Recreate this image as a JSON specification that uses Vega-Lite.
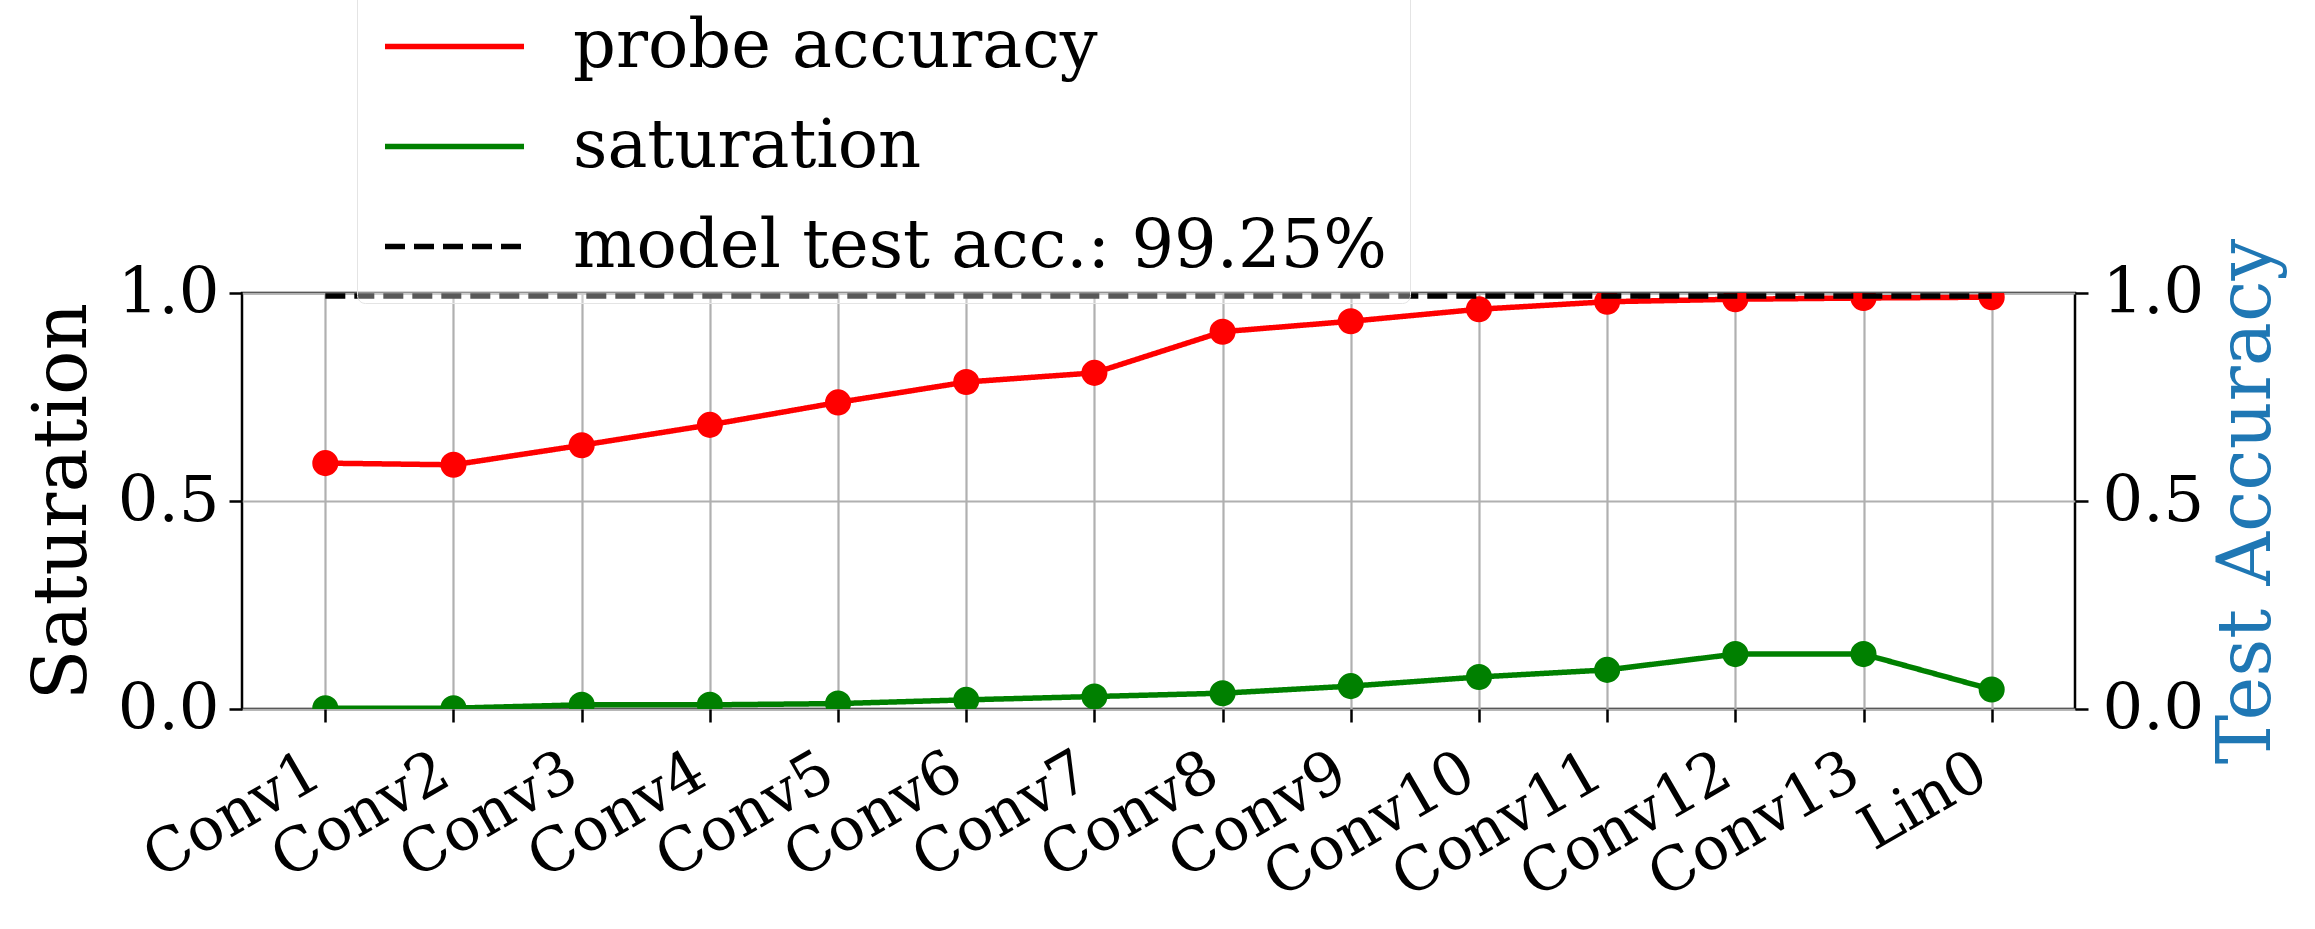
{
  "$schema": "https://vega.github.io/schema/vega-lite/v6.json",
  "width": 1833,
  "height": 416,
  "autosize": {"type": "none"},
  "padding": {"left": 242, "top": 293, "right": 240, "bottom": 220},
  "background": "white",
  "config": {
    "font": "DejaVu Serif",
    "view": {"stroke": "black", "strokeWidth": 2.5},
    "axis": {"labelFont": "DejaVu Serif", "titleFont": "DejaVu Serif", "labelColor": "black", "titleColor": "black", "titleFontWeight": "normal", "domainColor": "black", "domainWidth": 2.5, "tickColor": "black", "tickWidth": 2.5, "tickSize": 13}
  },
  "resolve": {"scale": {"y": "independent"}},
  "layer": [
    {
      "data": {"values": [
        {"layer": "Conv1", "series": "probe accuracy", "value": 0.591},
        {"layer": "Conv2", "series": "probe accuracy", "value": 0.587},
        {"layer": "Conv3", "series": "probe accuracy", "value": 0.634},
        {"layer": "Conv4", "series": "probe accuracy", "value": 0.683},
        {"layer": "Conv5", "series": "probe accuracy", "value": 0.737},
        {"layer": "Conv6", "series": "probe accuracy", "value": 0.786},
        {"layer": "Conv7", "series": "probe accuracy", "value": 0.808},
        {"layer": "Conv8", "series": "probe accuracy", "value": 0.907},
        {"layer": "Conv9", "series": "probe accuracy", "value": 0.932},
        {"layer": "Conv10", "series": "probe accuracy", "value": 0.961},
        {"layer": "Conv11", "series": "probe accuracy", "value": 0.979},
        {"layer": "Conv12", "series": "probe accuracy", "value": 0.985},
        {"layer": "Conv13", "series": "probe accuracy", "value": 0.988},
        {"layer": "Lin0", "series": "probe accuracy", "value": 0.990},
        {"layer": "Conv1", "series": "saturation", "value": 0.002},
        {"layer": "Conv2", "series": "saturation", "value": 0.002},
        {"layer": "Conv3", "series": "saturation", "value": 0.010},
        {"layer": "Conv4", "series": "saturation", "value": 0.010},
        {"layer": "Conv5", "series": "saturation", "value": 0.013},
        {"layer": "Conv6", "series": "saturation", "value": 0.022},
        {"layer": "Conv7", "series": "saturation", "value": 0.030},
        {"layer": "Conv8", "series": "saturation", "value": 0.038},
        {"layer": "Conv9", "series": "saturation", "value": 0.055},
        {"layer": "Conv10", "series": "saturation", "value": 0.077},
        {"layer": "Conv11", "series": "saturation", "value": 0.094},
        {"layer": "Conv12", "series": "saturation", "value": 0.132},
        {"layer": "Conv13", "series": "saturation", "value": 0.132},
        {"layer": "Lin0", "series": "saturation", "value": 0.047}
      ]},
      "layer": [
        {
          "mark": {"type": "line", "strokeWidth": 5.5, "clip": true},
          "encoding": {
            "x": {"field": "layer", "type": "nominal", "sort": null,
              "scale": {"type": "point", "padding": 0.65, "domain": ["Conv1","Conv2","Conv3","Conv4","Conv5","Conv6","Conv7","Conv8","Conv9","Conv10","Conv11","Conv12","Conv13","Lin0"]},
              "axis": {"title": null, "labelAngle": -30, "labelAlign": "right", "labelBaseline": "top", "labelFontSize": 60, "labelPadding": 20, "labelOffset": -24, "labelLimit": 2000, "labelOverlap": false, "grid": true, "gridColor": "#b0b0b0", "gridWidth": 2.2, "domain": false}},
            "y": {"field": "value", "type": "quantitative", "scale": {"domain": [0, 1], "nice": false},
              "axis": {"title": "Saturation", "values": [0, 0.5, 1], "format": ".1f", "labelFontSize": 64, "titleFontSize": 74, "titlePadding": 16, "labelPadding": 10, "grid": true, "gridColor": "#b0b0b0", "gridWidth": 2.2, "domain": false}},
            "color": {"field": "series", "type": "nominal",
              "scale": {"domain": ["probe accuracy", "saturation", "model test acc.: 99.25%"], "range": ["#ff0000", "#008000", "#000000"]},
              "legend": {"orient": "none", "legendX": 115, "legendY": -303, "title": null, "symbolType": "stroke", "symbolSize": 19321, "symbolStrokeWidth": 5.5, "labelFontSize": 67, "labelFont": "DejaVu Serif", "labelColor": "black", "fillColor": "rgba(255,255,255,0.35)", "strokeColor": "#e4e4e4", "cornerRadius": 8, "padding": 23, "rowPadding": 32, "clipHeight": 67, "labelOffset": 46, "symbolOffset": 2, "labelLimit": 2000}},
            "strokeDash": {"field": "series", "type": "nominal",
              "scale": {"domain": ["probe accuracy", "saturation", "model test acc.: 99.25%"], "range": [[1, 0], [1, 0], [20, 9]]}}
          }
        },
        {
          "mark": {"type": "point", "filled": true, "size": 680, "opacity": 1, "clip": true},
          "encoding": {
            "x": {"field": "layer", "type": "nominal", "sort": null},
            "y": {"field": "value", "type": "quantitative"},
            "color": {"field": "series", "type": "nominal"}
          }
        }
      ]
    },
    {
      "data": {"values": [
        {"start": "Conv1", "end": "Lin0", "acc": 0.9925, "series": "model test acc.: 99.25%"}
      ]},
      "mark": {"type": "rule", "strokeWidth": 5.5},
      "encoding": {
        "x": {"field": "start", "type": "nominal", "sort": null},
        "x2": {"field": "end"},
        "y": {"field": "acc", "type": "quantitative", "scale": {"domain": [0, 1], "nice": false},
          "axis": {"orient": "right", "title": "Test Accuracy", "titleColor": "#1f77b4", "titleAngle": -90, "titleBaseline": "top", "values": [0, 0.5, 1], "format": ".1f", "labelFontSize": 64, "titleFontSize": 74, "titlePadding": 8, "labelPadding": 14, "grid": false, "domain": false}},
        "color": {"field": "series", "type": "nominal"},
        "strokeDash": {"field": "series", "type": "nominal"}
      }
    }
  ]
}
